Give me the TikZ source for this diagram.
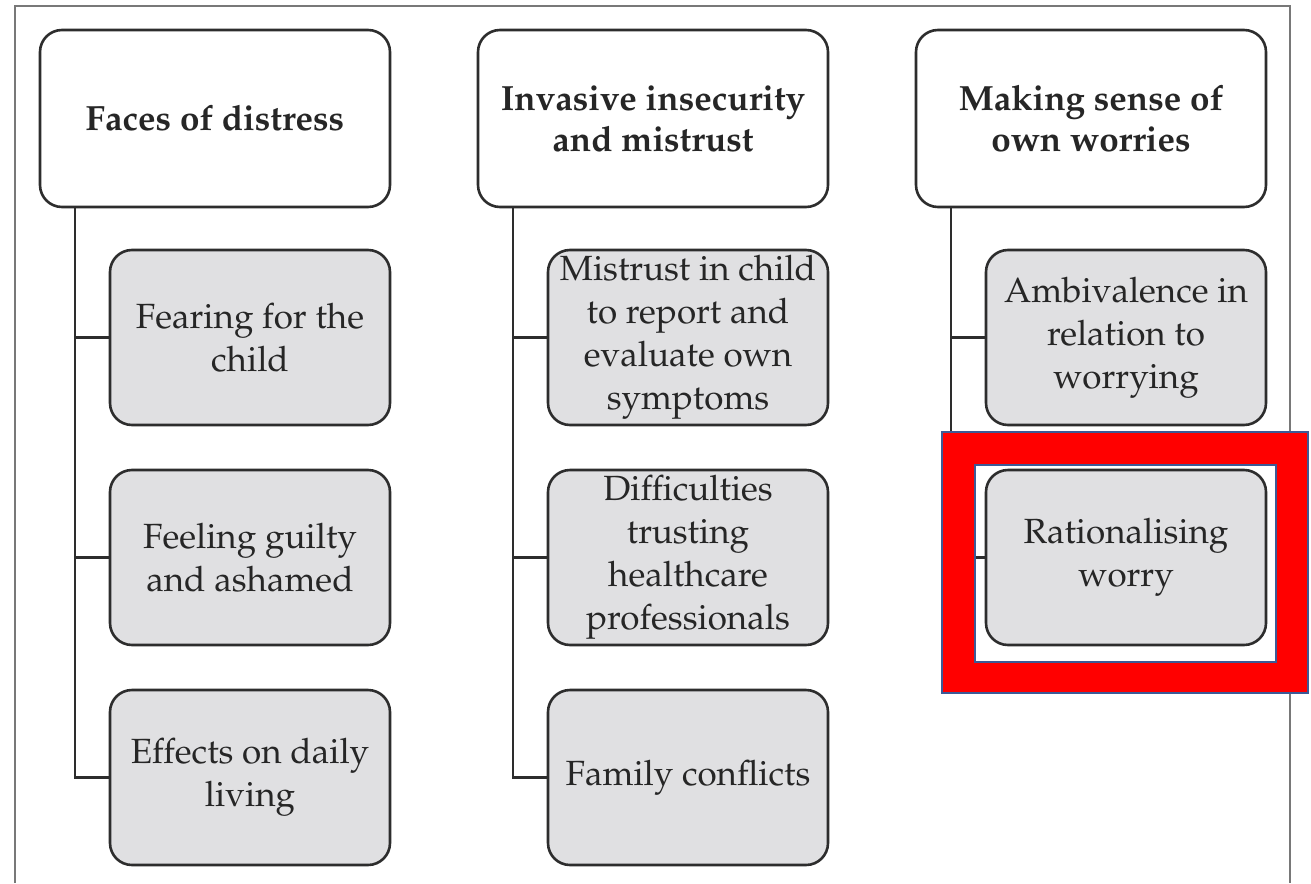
\documentclass[tikz,border=0pt]{standalone}
\usepackage[T1]{fontenc}
\usepackage{mathpazo}
\definecolor{boxline}{RGB}{45,45,45}
\definecolor{subfill}{RGB}{224,224,226}
\definecolor{framegray}{RGB}{120,120,120}
\definecolor{hlblue}{RGB}{60,90,150}
\tikzset{
  head/.style={draw=boxline, line width=2.6pt, rounded corners=22pt, fill=white,
    minimum width=350pt, minimum height=177pt, align=center,
    font=\fontsize{35}{41}\selectfont\bfseries, text=black!85},
  sub/.style={draw=boxline, line width=2.6pt, rounded corners=22pt, fill=subfill,
    minimum width=280pt, minimum height=175pt, align=center,
    font=\fontsize{35}{43}\selectfont, text=black!85},
  conn/.style={draw=boxline, line width=2.6pt},
}
\begin{document}
\begin{tikzpicture}[x=1pt,y=-1pt]
\useasboundingbox (0,0) rectangle (1311,883);
\fill[white] (0,0) rectangle (1311,883);
% outer frame
\draw[framegray, line width=2.5pt] (15,883) -- (15,6) -- (1290,6) -- (1290,883);
% headers
\node[head] (h1) at (215,118.5) {Faces of distress};
\node[head] (h2) at (653,118.5) {Invasive insecurity\\and mistrust};
\node[head] (h3) at (1091,118.5) {Making sense of\\own worries};
% sub boxes
\node[sub] (a1) at (250,337.5) {Fearing for the\\child};
\node[sub] (a2) at (250,557.5) {Feeling guilty\\and ashamed};
\node[sub] (a3) at (250,777.5) {Effects on daily\\living};
\node[sub] (b1) at (688,337.5) {Mistrust in child\\to report and\\evaluate own\\symptoms};
\node[sub] (b2) at (688,557.5) {Difficulties\\trusting\\healthcare\\professionals};
\node[sub] (b3) at (688,777.5) {Family conflicts};
\node[sub] (c1) at (1126,337.5) {Ambivalence in\\relation to\\worrying};
\node[sub] (c2) at (1126,557.5) {Rationalising\\worry};
% spines
\coordinate (s1) at (75,207);
\coordinate (s2) at (513,207);
\coordinate (s3) at (951,207);
\draw[conn] (s1) |- (a3.west);
\draw[conn] (s1 |- a1.west) -- (a1.west);
\draw[conn] (s1 |- a2.west) -- (a2.west);
\draw[conn] (s2) |- (b3.west);
\draw[conn] (s2 |- b1.west) -- (b1.west);
\draw[conn] (s2 |- b2.west) -- (b2.west);
\draw[conn] (s3) |- (c2.west);
\draw[conn] (s3 |- c1.west) -- (c1.west);
% highlight
\fill[red, even odd rule, draw=hlblue, line width=1.8pt] (942,432) rectangle (1308,693) (975,465) rectangle (1276,662);
\end{tikzpicture}
\end{document}
